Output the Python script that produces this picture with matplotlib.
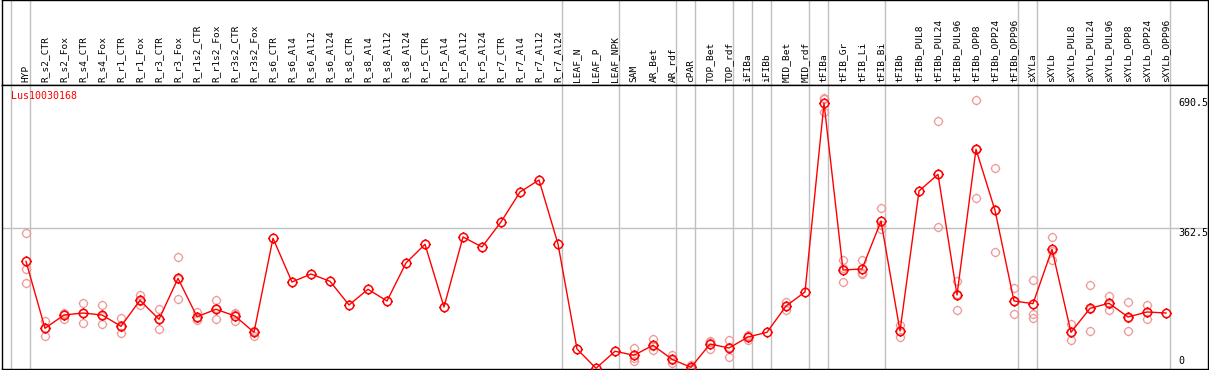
import numpy as np
import matplotlib
matplotlib.use("Agg")
import matplotlib.pyplot as plt
from matplotlib.path import Path
import matplotlib.transforms as mtransforms

gene = "Lus10030168"

samples = ["HYP", "R_s2_CTR", "R_s2_Fox", "R_s4_CTR", "R_s4_Fox", "R_r1_CTR", "R_r1_Fox",
           "R_r3_CTR", "R_r3_Fox", "R_r1s2_CTR", "R_r1s2_Fox", "R_r3s2_CTR", "R_r3s2_Fox",
           "R_s6_CTR", "R_s6_Al4", "R_s6_Al12", "R_s6_Al24", "R_s8_CTR", "R_s8_Al4",
           "R_s8_Al12", "R_s8_Al24", "R_r5_CTR", "R_r5_Al4", "R_r5_Al12", "R_r5_Al24",
           "R_r7_CTR", "R_r7_Al4", "R_r7_Al12", "R_r7_Al24", "LEAF_N", "LEAF_P", "LEAF_NPK",
           "SAM", "AR_Bet", "AR_rdf", "cPAR", "TOP_Bet", "TOP_rdf", "iFIBa", "iFIBb",
           "MID_Bet", "MID_rdf", "tFIBa", "tFIB_Gr", "tFIB_Li", "tFIB_Bi", "tFIBb",
           "tFIBb_PUL8", "tFIBb_PUL24", "tFIBb_PUL96", "tFIBb_OPP8", "tFIBb_OPP24",
           "tFIBb_OPP96", "sXYLa", "sXYLb", "sXYLb_PUL8", "sXYLb_PUL24", "sXYLb_PUL96",
           "sXYLb_OPP8", "sXYLb_OPP24", "sXYLb_OPP96"]

mean_vals = [278, 108.7, 142.4, 147.4, 142.4, 113.8, 179.6, 131.5, 235, 138, 156.8, 139.9, 98.6,
             336.4, 225.8, 246, 227.6, 167.7, 207.4, 177.8, 274, 321.2, 162.6, 339.7, 314.4,
             377.6, 453.5, 483.8, 322, 56.4, 7.6, 50.6,
             40.5, 65.8, 30.3, 10, 69, 58.9, 86.7, 98.6, 165, 200.6,
             677.8, 256.2, 258.7, 380, 102, 456, 498, 193, 561.4, 407, 177.8,
             171, 308.5, 98.6, 159.3, 172, 137.3, 150, 147.4]

nan = np.nan
rep_a = [349, 127, 148, 172, 167.7, 134, 193.8, 156.8, 288, 150, 180.3, 148, 102.7,
         nan, nan, nan, nan, nan, nan, nan, nan, nan, nan, nan, nan, nan, nan, nan, nan, nan, nan, nan,
         58, 81, 41.2, 15, 77.4, 79, 91.8, nan, 174.5, nan,
         690.5, 281.5, 281.5, 412, 117, nan, 632, 229, 685, 513, 210,
         230, 339.7, 118.8, 217.5, 191, 175, 167.7, nan]
rep_b = [259.5, 90, 133, 122, 118.8, 96, 166.9, 107, 183.7, 130, 131.5, 128, 90,
         nan, nan, nan, nan, nan, nan, nan, nan, nan, nan, nan, nan, nan, nan, nan, nan, nan, nan, nan,
         34.5, 53, 21.8, 8, 55.6, 36, 80, nan, 155, nan,
         655, 225, 249.4, 359, 86, nan, 364, 155, 437.5, 301, 145,
         145.7, 281.5, 78.4, 102, 155, 102.7, 133, nan]
rep_c = [222.6, 109, 146, 148, 141, 111, 178, 131, 233, 134, 159, 144, 103,
         nan, nan, nan, nan, nan, nan, nan, nan, nan, nan, nan, nan, nan, nan, nan, nan, nan, nan, nan,
         27, 63, 28, 7, 74, 62, 88, nan, 166, nan,
         688, 262, 245, 369, 103, nan, 498, 195, 561.7, 407, 178,
         134, 304, 98.6, 158, 170, 134, 149, nan]

# last sample of each group (grey separators)
group_ends = [-1, 0, 28, 31, 34, 35, 37, 38, 39, 41, 42, 45, 52, 53, 60]
ytick_vals = [0, 362.5, 690.5]

# ---- marker: ring with 4 little ticks
circ = Path.unit_circle()
ticks = []
for dx, dy in [(1, 0), (-1, 0), (0, 1), (0, -1)]:
    ticks.append(Path([(dx * 1.0, dy * 1.0), (dx * 1.25, dy * 1.25)], [Path.MOVETO, Path.LINETO]))
gear = Path.make_compound_path(circ, *ticks)

W, H = 1209, 370
fig = plt.figure(figsize=(W / 100, H / 100), dpi=100)
mono = "DejaVu Sans Mono"

x = np.arange(len(samples))
xlim = ((2 - 26) / 19, (1208 - 26) / 19)
grey = "#c0c0c0"

# header with the sample names
hax = fig.add_axes([2 / W, (H - 85) / H, 1206 / W, 85 / H])
hax.set_xlim(*xlim)
hax.set_ylim(0, 85)
hax.set_xticks([])
hax.set_yticks([])
for s in hax.spines.values():
    s.set_color("black")
    s.set_linewidth(1.0)
for g in group_ends:
    hax.axvline(g + 0.22, color=grey, lw=1.0, zorder=0)
for i, name in enumerate(samples):
    hax.text(i, 2.5, name, rotation=90, ha="center", va="bottom",
             fontsize=6.8, family=mono)

# main plot
ax = fig.add_axes([2 / W, 1 / H, 1206 / W, 284 / H])
ax.set_xlim(*xlim)
ax.set_ylim(5.8, 724)
ax.set_xticks([])
ax.set_yticks([])
for s in ax.spines.values():
    s.set_color("black")
    s.set_linewidth(1.0)
for g in group_ends:
    ax.axvline(g + 0.22, color=grey, lw=1.0, zorder=0)
ax.axhline(362.5, color=grey, lw=1.0, zorder=0)

for reps in (rep_a, rep_b, rep_c):
    ax.plot(x, reps, ls="none", marker=gear, ms=7, mfc="none", mec="#ee9a9a", mew=0.9, zorder=2)
ax.plot(x, mean_vals, color="red", lw=1.0, zorder=3)
ax.plot(x, mean_vals, ls="none", marker=gear, ms=7.5, mfc="none", mec="red", mew=1.1, zorder=4)

ax.text(9 / 1206, 1 - 6 / 284, gene, transform=ax.transAxes, color="red",
        fontsize=7.2, family=mono, ha="left", va="top")

trans = mtransforms.blended_transform_factory(ax.transAxes, ax.transData)
for v in ytick_vals:
    lab = ("%g" % v)
    if v <= ax.get_ylim()[0]:
        ax.text(1176 / 1206, 0.012, lab, transform=ax.transAxes, fontsize=7.2,
                family=mono, ha="left", va="bottom")
    else:
        ax.text(1176 / 1206, v, lab, transform=trans, fontsize=7.2,
                family=mono, ha="left", va="top")

fig.savefig("out.png", dpi=100)
